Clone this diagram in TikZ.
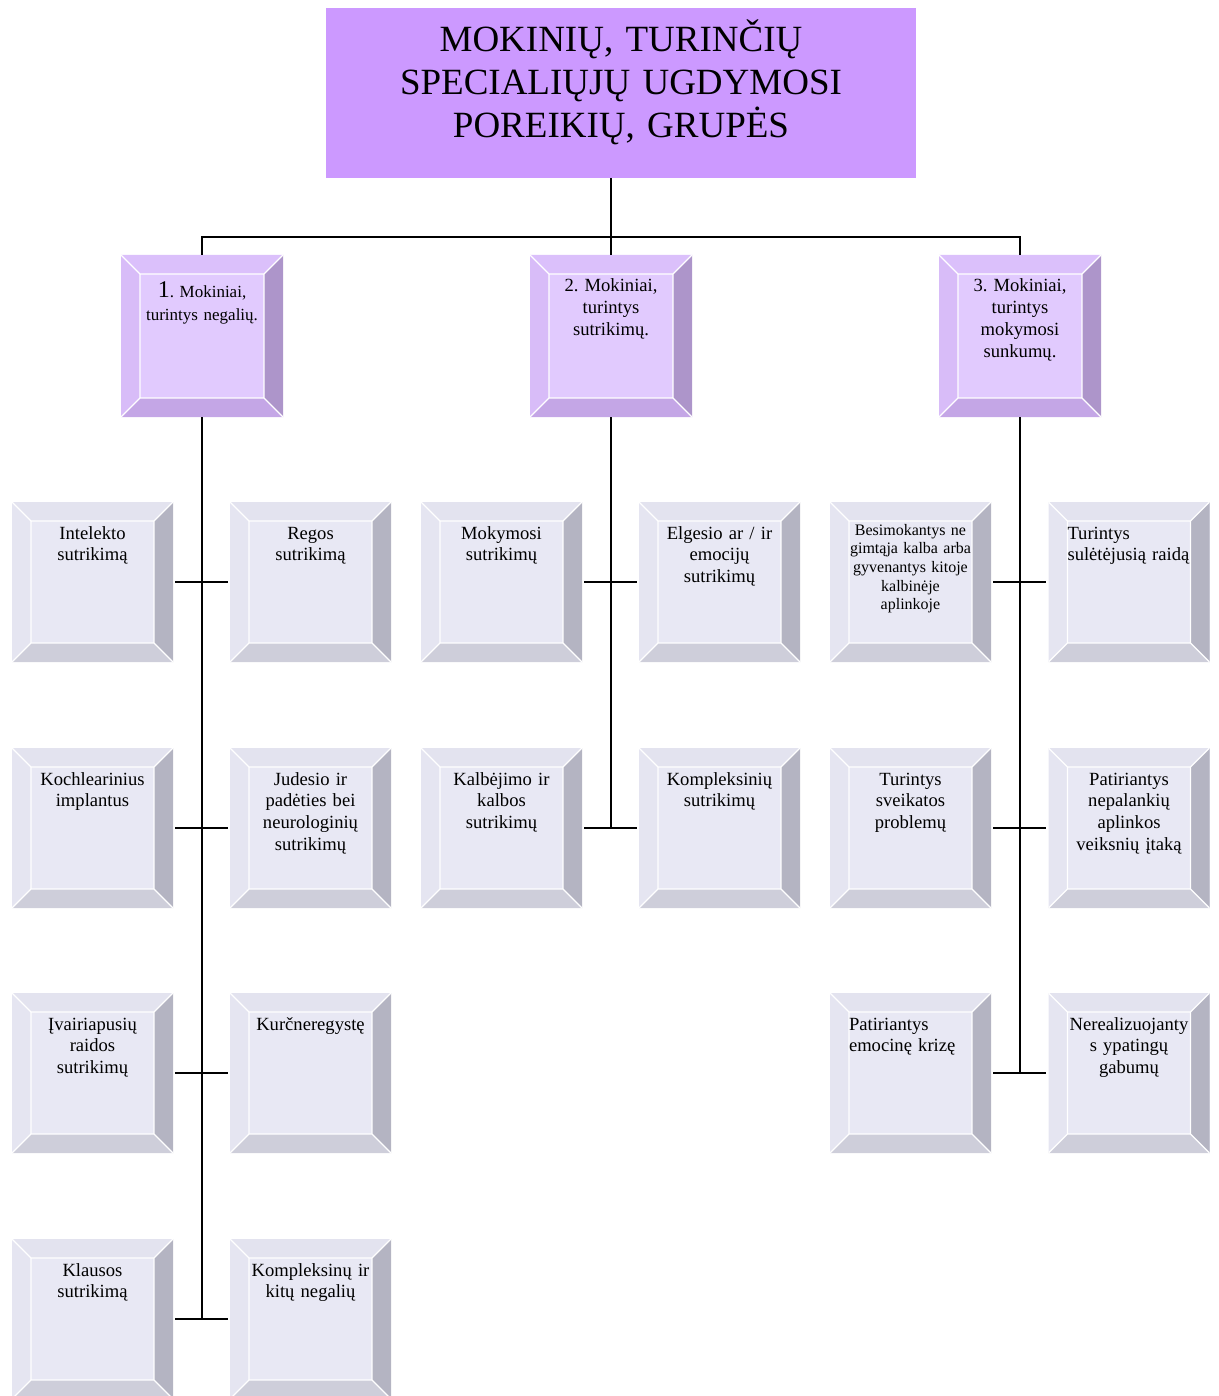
\documentclass[tikz,border=0pt]{standalone}
\usepackage{fontspec}
\setmainfont{Liberation Serif}
\frenchspacing
\usetikzlibrary{positioning}

\definecolor{titlefill}{HTML}{CC99FF}
\definecolor{grpface}{HTML}{E1CAFE}
\definecolor{grptop}{HTML}{DBC0FB}
\definecolor{grpleft}{HTML}{D8BCF8}
\definecolor{grpright}{HTML}{AD95CA}
\definecolor{grpbottom}{HTML}{C4A6E6}
\definecolor{kidface}{HTML}{E8E8F4}
\definecolor{kidtop}{HTML}{E3E3EF}
\definecolor{kidleft}{HTML}{E5E5F1}
\definecolor{kidright}{HTML}{B4B4C2}
\definecolor{kidbottom}{HTML}{CECEDA}

\newcommand{\bevelfaces}[1]{%
	\coordinate (bnw) at (path picture bounding box.north west);
	\coordinate (bne) at (path picture bounding box.north east);
	\coordinate (bsw) at (path picture bounding box.south west);
	\coordinate (bse) at (path picture bounding box.south east);
	\coordinate (inw) at ([shift={(19pt,-19pt)}]bnw);
	\coordinate (ine) at ([shift={(-19pt,-19pt)}]bne);
	\coordinate (isw) at ([shift={(19pt,19pt)}]bsw);
	\coordinate (ise) at ([shift={(-19pt,19pt)}]bse);
	\fill [#1top] (bnw) -- (bne) -- (ine) -- (inw) -- cycle;
	\fill [#1left] (bnw) -- (inw) -- (isw) -- (bsw) -- cycle;
	\fill [#1right] (bne) -- (bse) -- (ise) -- (ine) -- cycle;
	\fill [#1bottom] (bsw) -- (isw) -- (ise) -- (bse) -- cycle;
	\draw [white, line width=1.2pt] (bnw) -- (inw) (bne) -- (ine) (bsw) -- (isw) (bse) -- (ise) (inw) rectangle (ise);
}

\begin{document}
\begin{tikzpicture}[x = 1pt, y = -1pt,
	bevel/.style = {fill = #1face, path picture = {\bevelfaces{#1}}},
	titlebox/.style = {fill = titlefill, minimum width = 590pt, minimum height = 170pt, inner sep = 0pt,
		text width = 580pt, align = center, text height = 44pt, text depth = 126pt,
		font = \fontsize{37}{43}\selectfont},
	grp/.style = {bevel = grp, minimum width = 162pt, minimum height = 162pt, inner sep = 0pt,
		text width = 130pt, align = center, text height = 37pt, text depth = 125pt,
		font = \fontsize{18.6}{21.8}\selectfont},
	kid/.style = {bevel = kid, minimum width = 161pt, minimum height = 160pt, inner sep = 0pt,
		text width = 130pt, align = center, text height = 37pt, text depth = 123pt,
		font = \fontsize{18.6}{21.8}\selectfont},
	kidflush/.style = {kid, align = left, text width = 123pt},
	link/.style = {line width = 2pt},
	stub/.style = {link, shorten <= 2pt, shorten >= 2pt}]

	\useasboundingbox (0, 0) rectangle (1218, 1396);

	\node [titlebox] (title) at (621, 93) {MOKINIŲ, TURINČIŲ\\SPECIALIŲJŲ UGDYMOSI\\POREIKIŲ, GRUPĖS};

	\node [grp, text height = 43pt, text depth = 119pt, font = \fontsize{17}{23}\selectfont] (negal) at (202, 336)
		{{\fontsize{24}{26}\selectfont 1}. Mokiniai,\\turintys negalių.};
	\node [grp] (sutrik) at (611, 336) {2. Mokiniai,\\turintys\\sutrikimų.};
	\node [grp] (sunkum) at (1020, 336) {3. Mokiniai,\\turintys\\mokymosi\\sunkumų.};

	\begin{scope}
		\node [kid] (intelekto) at (92.5, 582) {Intelekto\\sutrikimą};
		\node [kid] (regos) at (310.5, 582) {Regos\\sutrikimą};
		\node [kid] (kochlear) at (92.5, 828) {Kochlearinius\\implantus};
		\node [kid] (judesio) at (310.5, 828) {Judesio ir\\padėties bei\\neurologinių\\sutrikimų};
		\node [kid] (ivair) at (92.5, 1073) {Įvairiapusių\\raidos\\sutrikimų};
		\node [kid] (kurcner) at (310.5, 1073) {Kurčneregystę};
		\node [kid] (klausos) at (92.5, 1319) {Klausos\\sutrikimą};
		\node [kid] (kompneg) at (310.5, 1319) {Kompleksinų ir\\kitų negalių};
	\end{scope}

	\begin{scope}
		\node [kid] (mokymo) at (501.5, 582) {Mokymosi\\sutrikimų};
		\node [kid] (elgesio) at (719.5, 582) {Elgesio ar / ir\\emocijų\\sutrikimų};
		\node [kid] (kalbej) at (501.5, 828) {Kalbėjimo ir\\kalbos\\sutrikimų};
		\node [kid] (kompsut) at (719.5, 828) {Kompleksinių\\sutrikimų};
	\end{scope}

	\begin{scope}
		\node [kid, text height = 33pt, text depth = 127pt, font = \fontsize{16}{18.7}\selectfont] (gimtoji) at (910.5, 582)
			{Besimokantys ne\\gimtąja kalba arba\\gyvenantys kitoje\\kalbinėje\\aplinkoje};
		\node [kidflush] (raida) at (1129, 582) {Turintys\\sulėtėjusią raidą};
		\node [kid] (sveikata) at (910.5, 828) {Turintys\\sveikatos\\problemų};
		\node [kid] (aplinka) at (1129, 828) {Patiriantys\\nepalankių\\aplinkos\\veiksnių įtaką};
		\node [kidflush] (krize) at (910.5, 1073) {Patiriantys\\emocinę krizę};
		\node [kid] (gabumai) at (1129, 1073) {Nerealizuojanty\\s ypatingų\\gabumų};
	\end{scope}

	\draw [link] (sutrik.north) -- (sutrik.north |- title.south);
	\draw [link] (negal.north) -- ++(0, 18pt) -| (sunkum.north);

	\draw [link] (negal.south) -- (negal.south |- klausos.center);
	\draw [link] (sutrik.south) -- (sutrik.south |- kalbej.center);
	\draw [link] (sunkum.south) -- (sunkum.south |- krize.center);

	\draw [stub] (intelekto.east) -- (regos.west);
	\draw [stub] (kochlear.east) -- (judesio.west);
	\draw [stub] (ivair.east) -- (kurcner.west);
	\draw [stub] (klausos.east) -- (kompneg.west);
	\draw [stub] (mokymo.east) -- (elgesio.west);
	\draw [stub] (kalbej.east) -- (kompsut.west);
	\draw [stub] (gimtoji.east) -- (raida.west);
	\draw [stub] (sveikata.east) -- (aplinka.west);
	\draw [stub] (krize.east) -- (gabumai.west);

\end{tikzpicture}
\end{document}
